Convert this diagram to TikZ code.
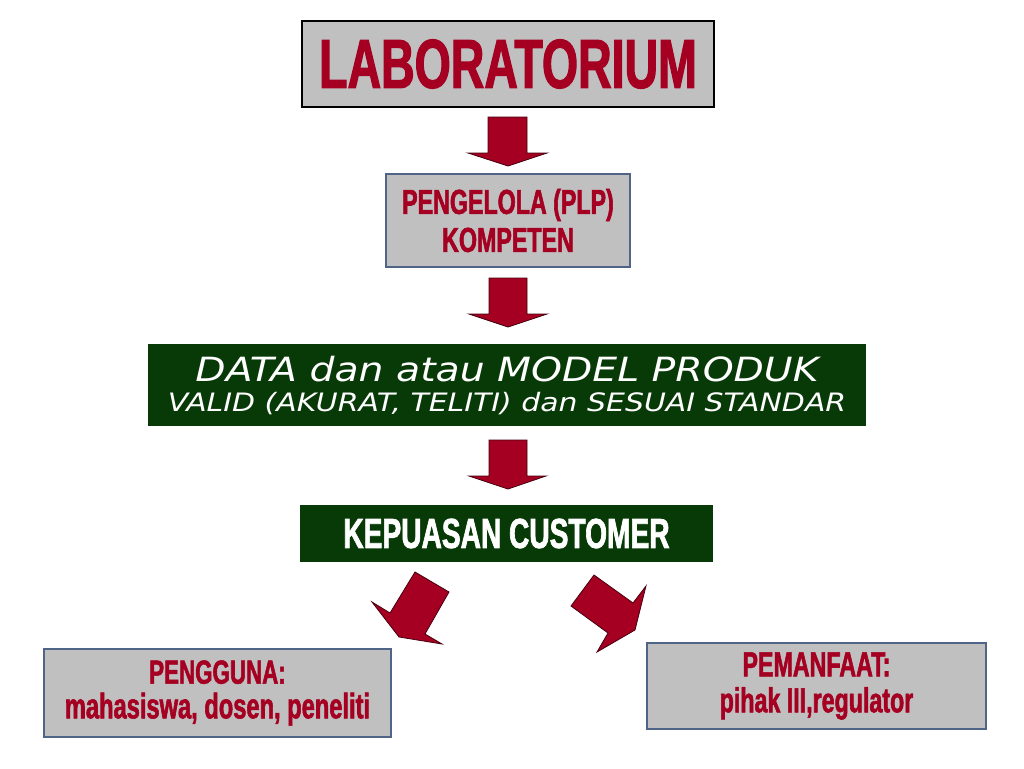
\documentclass[tikz,border=0pt]{standalone}
\usepackage{fontspec}
\newfontfamily\impact{Liberation Sans}[FakeStretch=0.67,FakeBold=1.6]
\newfontfamily\hand{DejaVu Sans}[FakeStretch=1.18]
\definecolor{lred}{RGB}{165,0,33}
\definecolor{dgreen}{RGB}{8,58,8}
\definecolor{boxgray}{RGB}{192,192,192}
\definecolor{slate}{RGB}{80,100,135}
\definecolor{arrowline}{RGB}{70,0,15}
\begin{document}
\begin{tikzpicture}[x=0.75pt,y=-0.75pt,
  graybox/.style={draw=slate, fill=boxgray, line width=0.9pt, inner sep=0pt, align=center, text=lred},
  greenbox/.style={fill=dgreen, inner sep=0pt, align=center, text=white},
  blockarrow/.style={fill=lred, draw=arrowline, line width=0.6pt, line join=miter}]
\useasboundingbox (0,0) rectangle (1024,768);
\fill[white] (0,0) rectangle (1024,768);

\node[graybox, draw=black, minimum width=309pt, minimum height=64.5pt,
      font={\impact\bfseries\fontsize{52}{56}\selectfont}] (lab) at (508,64) {LABORATORIUM};
\node[graybox, minimum width=183pt, minimum height=69.75pt,
      font={\impact\bfseries\fontsize{26}{28.5}\selectfont}] (plp) at (508,220.5) {PENGELOLA (PLP)\\KOMPETEN};
\node[greenbox, minimum width=538.5pt, minimum height=61.5pt,
      font={\hand\itshape\fontsize{19}{22.5}\selectfont}] (data) at (507,385)
  {{\fontsize{25}{22.5}\selectfont DATA dan atau MODEL PRODUK}\\
   VALID (AKURAT, TELITI) dan SESUAI STANDAR};
\node[greenbox, minimum width=309.75pt, minimum height=42.75pt,
      font={\impact\bfseries\fontsize{31.5}{34}\selectfont}] (kep) at (506.5,533.5) {KEPUASAN CUSTOMER};
\node[graybox, minimum width=260.25pt, minimum height=66pt,
      font={\impact\bfseries\fontsize{25}{26}\selectfont}] (peng) at (217.5,693)
  {PENGGUNA:\\{\fontsize{26.5}{26}\selectfont mahasiswa, dosen, peneliti}};
\node[graybox, minimum width=254.25pt, minimum height=64.5pt,
      font={\impact\bfseries\fontsize{26}{27}\selectfont}] (pem) at (816.5,686) {PEMANFAAT:\\pihak III,regulator};

% block arrows
\draw[blockarrow] (488,117) -- (527,117) -- (527,153) -- (547,153) -- (508,166) -- (468,153) -- (488,153) -- cycle;
\draw[blockarrow] (489,278) -- (527,278) -- (527,314) -- (547,314) -- (508,327) -- (469,314) -- (489,314) -- cycle;
\draw[blockarrow] (489,440) -- (527,440) -- (527,476) -- (546,476) -- (508,489) -- (469,476) -- (489,476) -- cycle;
\draw[blockarrow] (415,572) -- (449,592) -- (425,634) -- (442,644) -- (399,637) -- (372,602) -- (390,613) -- cycle;
\draw[blockarrow] (594,575) -- (633,603) -- (646,586) -- (635,630) -- (597,652) -- (608,633) -- (571,606) -- cycle;
\end{tikzpicture}
\end{document}
